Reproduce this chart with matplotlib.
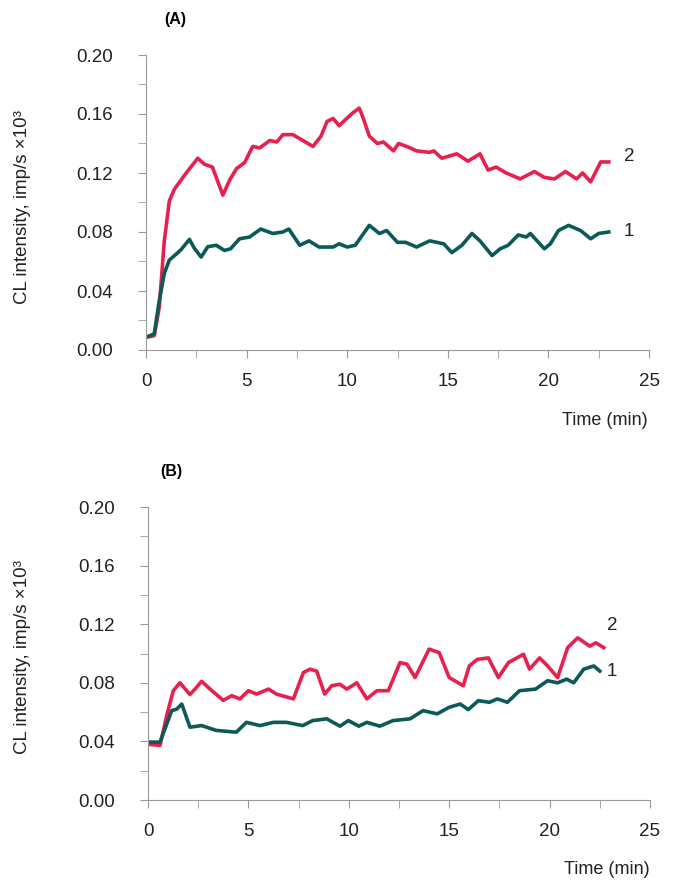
import matplotlib
matplotlib.use("Agg")
import matplotlib.pyplot as plt
from matplotlib.ticker import MultipleLocator

plt.rcParams['font.family'] = ['Liberation Sans', 'DejaVu Sans']

# panel A, curve 2 (red) and curve 1 (green)
a_t2 = [0, 0.41, 0.66, 0.91, 1.16, 1.41, 2.0, 2.57, 2.9, 3.3, 3.82, 4.15, 4.5, 4.9,
        5.3, 5.65, 6.15, 6.5, 6.8, 7.3, 7.8, 8.3, 8.7, 9.0, 9.3, 9.6, 9.9, 10.3,
        10.6, 10.8, 11.1, 11.5, 11.8, 12.3, 12.55, 12.96, 13.45, 14.1, 14.3, 14.7,
        15.45, 16.0, 16.6, 17.0, 17.4, 17.9, 18.6, 19.3, 19.8, 20.3, 20.85, 21.4,
        21.7, 22.1, 22.6, 23.0]
a_v2 = [0.0086, 0.0097, 0.029, 0.074, 0.101, 0.109, 0.120, 0.130, 0.126, 0.124,
        0.105, 0.115, 0.123, 0.127, 0.138, 0.137, 0.142, 0.141, 0.146, 0.146,
        0.142, 0.138, 0.145, 0.155, 0.157, 0.152, 0.156, 0.161, 0.164, 0.157,
        0.145, 0.140, 0.141, 0.135, 0.140, 0.138, 0.135, 0.134, 0.135, 0.130,
        0.133, 0.128, 0.133, 0.122, 0.124, 0.120, 0.116, 0.121, 0.117, 0.116,
        0.121, 0.116, 0.120, 0.114, 0.1275, 0.1275]
a_t1 = [0, 0.41, 0.66, 0.91, 1.16, 1.5, 1.74, 2.16, 2.4, 2.74, 3.07, 3.49, 3.9, 4.2,
        4.65, 5.15, 5.7, 6.3, 6.8, 7.1, 7.64, 8.1, 8.6, 9.3, 9.6, 10.0, 10.4, 11.1,
        11.6, 11.96, 12.5, 12.9, 13.45, 14.1, 14.8, 15.2, 15.7, 16.2, 16.6, 17.2,
        17.6, 18.0, 18.5, 18.9, 19.1, 19.8, 20.1, 20.5, 21.0, 21.6, 22.1, 22.5, 23.0]
a_v1 = [0.0086, 0.011, 0.0335, 0.052, 0.061, 0.065, 0.068, 0.075, 0.069, 0.063,
        0.070, 0.071, 0.0675, 0.0686, 0.0754, 0.0766, 0.082, 0.079, 0.080, 0.082,
        0.071, 0.074, 0.0698, 0.0698, 0.072, 0.0698, 0.071, 0.0845, 0.079, 0.081,
        0.073, 0.073, 0.0698, 0.074, 0.072, 0.066, 0.071, 0.079, 0.074, 0.064,
        0.0686, 0.071, 0.078, 0.0766, 0.079, 0.0686, 0.072, 0.081, 0.0845, 0.081,
        0.0754, 0.079, 0.080]

# panel B
b_t2 = [0, 0.6, 0.93, 1.26, 1.59, 2.09, 2.34, 2.67, 3.09, 3.75, 4.17, 4.58, 5.0,
        5.41, 6.0, 6.4, 7.24, 7.74, 8.07, 8.4, 8.8, 9.15, 9.56, 9.9, 10.4, 10.9,
        11.4, 11.97, 12.55, 12.9, 13.3, 14.0, 14.5, 15.0, 15.7, 16.0, 16.4, 16.95,
        17.45, 17.95, 18.7, 19.0, 19.5, 19.9, 20.4, 20.9, 21.4, 22.0, 22.3, 22.7]
b_v2 = [0.038, 0.0373, 0.0576, 0.0746, 0.080, 0.072, 0.0757, 0.081, 0.0757, 0.068,
        0.0712, 0.069, 0.0746, 0.0723, 0.0757, 0.0723, 0.069, 0.087, 0.0893, 0.088,
        0.0723, 0.078, 0.079, 0.0757, 0.080, 0.069, 0.0746, 0.0746, 0.0938, 0.0927,
        0.0836, 0.103, 0.1006, 0.0836, 0.078, 0.0915, 0.096, 0.097, 0.0836, 0.0938,
        0.0995, 0.0893, 0.097, 0.0915, 0.0836, 0.104, 0.1107, 0.105, 0.1073, 0.104]
b_t1 = [0, 0.6, 1.18, 1.43, 1.68, 2.09, 2.67, 3.4, 4.4, 4.9, 5.58, 6.24, 6.9, 7.7,
        8.2, 8.9, 9.56, 9.98, 10.5, 10.9, 11.55, 12.2, 13.05, 13.7, 14.4, 15.0,
        15.55, 15.95, 16.45, 17.0, 17.4, 17.9, 18.5, 19.3, 19.9, 20.4, 20.85, 21.2,
        21.7, 22.2, 22.5]
b_v1 = [0.0395, 0.0395, 0.061, 0.062, 0.0655, 0.0497, 0.0508, 0.0475, 0.0463, 0.053,
        0.0508, 0.053, 0.053, 0.0508, 0.0542, 0.0554, 0.0504, 0.0542, 0.0504, 0.053,
        0.0504, 0.0542, 0.0554, 0.061, 0.0588, 0.0633, 0.0655, 0.0617, 0.0678,
        0.0667, 0.069, 0.0667, 0.0746, 0.0757, 0.0814, 0.080, 0.0825, 0.080, 0.0893,
        0.0915, 0.088]

red = '#E8204E'
green = '#0B5A57'
grey = '#9a9a9a'

fig = plt.figure(figsize=(6.74, 8.8), dpi=100)
ax_a = fig.add_axes([146/674, 1-350/880, 503/674, 295/880])
ax_b = fig.add_axes([148/674, 1-800/880, 502/674, 293/880])

panels = [
    (ax_a, a_t1, a_v1, a_t2, a_v2, '(A)', 0.058, (24.0, 0.080), (24.0, 0.131), 0.765),
    (ax_b, b_t1, b_v1, b_t2, b_v2, '(B)', 0.046, (23.1, 0.0875), (23.1, 0.119), 0.253),
]

for ax, t1, v1, t2, v2, tag, tag_x, pos1, pos2, ylab_y in panels:
    ax.plot(t2, v2, color=red, linewidth=2.6, solid_joinstyle='round')
    ax.plot(t1, v1, color=green, linewidth=2.6, solid_joinstyle='round')
    ax.set_xlim(0, 25)
    ax.set_ylim(0, 0.20)
    ax.xaxis.set_major_locator(MultipleLocator(5))
    ax.xaxis.set_minor_locator(MultipleLocator(2.5))
    ax.yaxis.set_major_locator(MultipleLocator(0.04))
    ax.yaxis.set_minor_locator(MultipleLocator(0.02))
    ax.yaxis.set_major_formatter(plt.FormatStrFormatter('%.2f'))
    ax.tick_params(which='both', direction='out', length=5.5, color=grey,
                   labelsize=13.5, labelcolor='#222222')
    ax.tick_params(axis='x', which='major', pad=11)
    ax.tick_params(axis='y', which='major', pad=18)
    for s in ['top', 'right']:
        ax.spines[s].set_visible(False)
    for s in ['left', 'bottom']:
        ax.spines[s].set_color(grey)
    ax.text(pos1[0], pos1[1], '1', fontsize=13.5, color='#222222',
            ha='center', va='center', clip_on=False)
    ax.text(pos2[0], pos2[1], '2', fontsize=13.5, color='#222222',
            ha='center', va='center', clip_on=False)
    ax.text(tag_x, 1.12, tag, transform=ax.transAxes, fontsize=11.5,
            fontweight='bold', ha='center', va='center')
    ax.text(0.913, -0.238, 'Time (min)', transform=ax.transAxes, fontsize=13,
            color='#222222', ha='center', va='center')
    fig.text(0.034, ylab_y, 'CL intensity, imp/s ×10³', rotation=90,
             fontsize=13.5, color='#222222', ha='center', va='center')

plt.savefig('out.png', dpi=100)
